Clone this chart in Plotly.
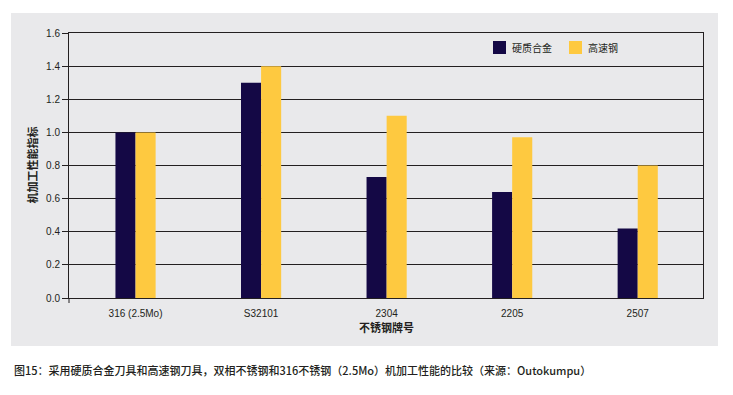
import plotly.graph_objects as go

# ---- data ----
categories = ["316 (2.5Mo)", "S32101", "2304", "2205", "2507"]
series_names = ["硬质合金", "高速钢"]
carbide = [1.00, 1.30, 0.73, 0.64, 0.42]
hss = [1.00, 1.40, 1.10, 0.97, 0.80]
y_ticks = [0.0, 0.2, 0.4, 0.6, 0.8, 1.0, 1.2, 1.4, 1.6]
x_title = "不锈钢牌号"
y_title = "机加工性能指标"
caption = "图15：采用硬质合金刀具和高速钢刀具，双相不锈钢和316不锈钢（2.5Mo）机加工性能的比较（来源：Outokumpu）"

# ---- style ----
OFF = 8  # default page body margin
W, H = 733 - OFF, 395 - OFF
# plot area in page pixels
L, R, T, B = 69, 703, 33, 298
DARK = "#140845"
YELLOW = "#FEC940"
GREY = "#E9E9EB"
INK = "#231f20"
CJK = "Noto Sans CJK SC"
LAT = "Liberation Sans, Arial, sans-serif"


def px(x):
    return (x - L) / (R - L)


def py(y):
    return (B - y) / (B - T)


fig = go.Figure()
fig.add_trace(go.Bar(x=categories, y=carbide, name=series_names[0],
                     marker=dict(color=DARK, line=dict(width=0))))
fig.add_trace(go.Bar(x=categories, y=hss, name=series_names[1],
                     marker=dict(color=YELLOW, line=dict(width=0))))

fig.update_layout(
    width=W, height=H,
    margin=dict(l=L - OFF, r=(733 - R), t=T - OFF, b=(395 - B), pad=0),
    paper_bgcolor="white",
    plot_bgcolor="rgba(0,0,0,0)",
    barmode="group", bargap=0.68, bargroupgap=0,
    showlegend=False,
    font=dict(family=LAT, size=10, color=INK),
)
fig.update_xaxes(
    type="category", range=[-0.53, 4.52],
    showline=True, mirror=True, linecolor=INK, linewidth=1,
    showgrid=False, ticks="", zeroline=False,
    tickfont=dict(family=LAT, size=10, color=INK),
    ticklabelstandoff=6,
)
fig.update_yaxes(
    range=[0, 1.6], tickvals=y_ticks, tickformat=".1f",
    showline=True, mirror=True, linecolor=INK, linewidth=1,
    showgrid=True, gridcolor=INK, gridwidth=1,
    ticks="outside", ticklen=6, tickcolor=INK, tickwidth=1,
    zeroline=False,
    tickfont=dict(family=LAT, size=10, color=INK),
)

shapes = [
    # grey panel behind the chart
    dict(type="rect", xref="paper", yref="paper",
         x0=px(11), x1=px(718), y0=py(346), y1=py(13),
         fillcolor=GREY, line=dict(width=0), layer="below"),
    # small downward extension of the y-axis
    dict(type="line", xref="paper", yref="paper",
         x0=0, x1=0, y0=0, y1=py(303), line=dict(color=INK, width=1)),
    # legend swatches
    dict(type="rect", xref="paper", yref="paper",
         x0=px(493), x1=px(506), y0=py(54), y1=py(41),
         fillcolor=DARK, line=dict(width=0)),
    dict(type="rect", xref="paper", yref="paper",
         x0=px(569), x1=px(582), y0=py(54), y1=py(41),
         fillcolor=YELLOW, line=dict(width=0)),
]
fig.update_layout(shapes=shapes)

annotations = [
    dict(text=series_names[0], xref="paper", yref="paper", x=px(510), y=py(47.5),
         xanchor="left", yanchor="middle", showarrow=False,
         font=dict(family=CJK, size=10, color=INK)),
    dict(text=series_names[1], xref="paper", yref="paper", x=px(586), y=py(47.5),
         xanchor="left", yanchor="middle", showarrow=False,
         font=dict(family=CJK, size=10, color=INK)),
    dict(text=x_title, xref="paper", yref="paper", x=0.5, y=py(327),
         xanchor="center", yanchor="middle", showarrow=False,
         font=dict(family=CJK, size=11, color=INK, weight="bold")),
    dict(text=y_title, xref="paper", yref="paper", x=px(31), y=0.5,
         xanchor="center", yanchor="middle", showarrow=False, textangle=-90,
         font=dict(family=CJK, size=11, color=INK, weight="bold")),
    dict(text=caption, xref="paper", yref="paper", x=px(12), y=py(370),
         xanchor="left", yanchor="middle", showarrow=False,
         font=dict(family=CJK, size=11, color=INK, weight=500)),
]
fig.update_layout(annotations=annotations)

fig.write_html("out.html")
